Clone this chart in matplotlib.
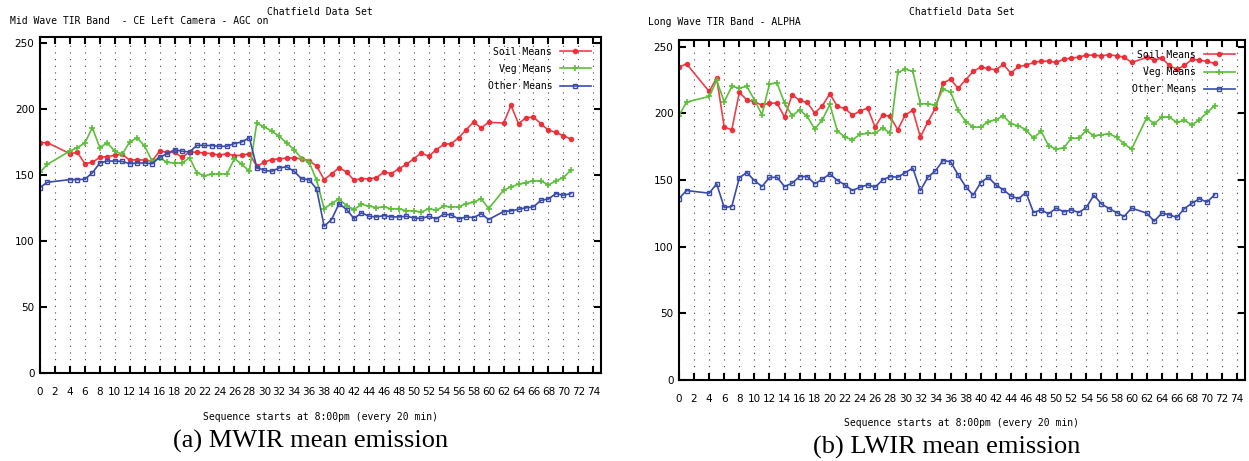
import matplotlib
matplotlib.use("Agg")
import matplotlib.pyplot as plt

# Sequence index (every 20 min from 8:00pm); 2, 3 and 61 are missing
seq = [0, 1, 4, 5, 6, 7, 8, 9, 10, 11, 12, 13, 14, 15, 16, 17, 18, 19, 20,
       21, 22, 23, 24, 25, 26, 27, 28, 29, 30, 31, 32, 33, 34, 35, 36, 37,
       38, 39, 40, 41, 42, 43, 44, 45, 46, 47, 48, 49, 50, 51, 52, 53, 54,
       55, 56, 57, 58, 59, 60, 62, 63, 64, 65, 66, 67, 68, 69, 70, 71]

# (a) MWIR
mwir_soil = [174.7, 174.7, 166.4, 167.4, 158.8, 159.8, 163.6, 164.1, 165.2, 165.9,
             161.4, 161.9, 161.4, 160.8, 168.4, 167.4, 167.4, 163.6, 167.7, 167.4,
             166.9, 166.4, 165.2, 166.4, 164.9, 165.2, 166.4, 156.8, 160.0, 161.9,
             162.4, 163.1, 163.1, 162.5, 161.0, 157.0, 146.7, 151.0, 155.8, 152.5,
             146.2, 147.5, 147.2, 148.2, 152.5, 151.3, 155.0, 158.3, 162.6, 166.9,
             164.4, 169.4, 173.5, 174.0, 178.5, 184.6, 190.4, 185.9, 190.2, 189.6,
             203.0, 189.1, 193.7, 194.2, 189.1, 184.1, 182.6, 180.0, 177.5]
mwir_veg = [152.3, 158.3, 168.4, 171.0, 174.5, 186.1, 171.0, 174.5, 168.4, 165.9,
            175.3, 178.5, 172.0, 160.8, 163.3, 159.8, 159.3, 159.3, 163.3, 151.8,
            149.7, 150.8, 151.3, 150.8, 162.6, 158.3, 153.0, 189.6, 186.6, 183.6,
            179.5, 174.5, 169.4, 162.6, 160.0, 146.2, 124.7, 128.5, 132.0, 127.0,
            124.0, 128.0, 126.5, 125.5, 126.0, 124.5, 124.5, 123.0, 123.0, 122.0,
            124.7, 123.5, 126.5, 126.0, 126.0, 128.5, 129.5, 132.3, 124.7, 138.6,
            141.2, 143.2, 144.5, 145.7, 145.7, 142.7, 145.7, 148.3, 153.8]
mwir_other = [140.7, 144.7, 146.7, 146.7, 147.0, 151.8, 159.3, 160.8, 160.8, 160.5,
              158.8, 159.3, 159.3, 158.8, 163.6, 166.4, 169.4, 168.2, 167.7, 172.7,
              172.7, 172.5, 172.0, 172.0, 174.0, 175.3, 178.5, 155.8, 153.8, 153.0,
              155.6, 156.4, 153.0, 147.2, 146.7, 139.5, 111.4, 116.4, 128.5, 124.0,
              117.2, 121.5, 118.9, 118.4, 119.4, 118.4, 118.4, 118.9, 117.7, 117.2,
              118.9, 116.9, 120.4, 119.9, 116.9, 118.4, 117.9, 120.9, 116.4, 122.5,
              123.0, 124.2, 125.3, 126.0, 131.0, 132.0, 136.1, 134.8, 136.1]

# (b) LWIR
lwir_soil = [234.7, 237.2, 216.5, 226.5, 189.7, 187.7, 215.7, 210.2, 208.7, 206.2,
             207.7, 207.7, 197.2, 214.0, 209.7, 208.2, 200.2, 205.7, 214.7, 205.2,
             203.7, 198.7, 201.7, 204.0, 189.7, 199.0, 197.7, 187.7, 199.0, 202.2,
             182.2, 193.7, 204.0, 222.7, 225.7, 218.7, 225.2, 231.5, 234.7, 233.7,
             232.7, 236.7, 230.2, 235.2, 236.2, 238.2, 239.2, 239.2, 238.2, 240.7,
             241.5, 242.2, 243.7, 243.7, 243.2, 244.0, 243.2, 242.2, 238.2, 242.0,
             240.0, 241.5, 236.0, 233.0, 236.0, 240.5, 240.0, 239.0, 237.5]
lwir_veg = [198.2, 208.5, 212.7, 224.7, 208.7, 220.2, 219.0, 220.2, 210.2, 199.0,
            222.2, 222.7, 207.7, 198.2, 202.7, 197.7, 188.2, 195.2, 206.7, 186.7,
            182.2, 180.2, 184.2, 185.0, 185.0, 189.2, 185.0, 230.7, 233.2, 231.5,
            207.2, 207.2, 206.2, 218.2, 216.0, 202.2, 193.9, 189.7, 189.7, 193.9,
            195.2, 198.2, 192.2, 190.7, 187.7, 181.4, 186.7, 175.7, 173.2, 174.0,
            181.4, 181.4, 187.2, 183.2, 183.9, 184.7, 182.2, 177.2, 173.2, 196.7,
            192.2, 197.2, 197.2, 193.2, 194.7, 191.4, 195.2, 200.7, 205.7]
lwir_other = [136.1, 142.1, 140.1, 147.1, 129.4, 130.1, 151.7, 155.6, 149.6, 145.1,
              151.9, 152.1, 145.1, 147.6, 152.6, 152.6, 147.1, 150.6, 154.6, 149.6,
              146.4, 142.1, 144.6, 146.4, 144.6, 150.1, 152.6, 152.1, 155.6, 158.9,
              142.1, 152.1, 156.9, 164.6, 163.8, 153.9, 145.1, 138.6, 148.1, 152.1,
              146.4, 142.6, 138.1, 135.9, 140.6, 125.6, 127.6, 124.6, 128.9, 126.1,
              127.6, 125.6, 129.4, 138.6, 132.1, 128.6, 125.6, 122.6, 128.9, 125.1,
              119.1, 125.1, 123.9, 121.9, 128.6, 132.6, 135.9, 133.4, 138.9]

x_ticks = list(range(0, 75, 2))
y_ticks = [0, 50, 100, 150, 200, 250]

RED = "#ec2a34"
GREEN = "#5cbf3a"
BLUE = "#3a4bab"
MONO = "DejaVu Sans Mono"


def draw_panel(ax, soil, veg, other):
    ax.plot(seq, soil, color=RED, lw=1.2, marker="o", ms=3, mfc=RED,
            mec=RED, alpha=0.9, label="Soil Means")
    ax.plot(seq, veg, color=GREEN, lw=1.2, marker="+", ms=5, mew=1.2,
            label="Veg Means")
    ax.plot(seq, other, color=BLUE, lw=1.2, marker="s", ms=3.5, mfc="none",
            mew=1.0, label="Other Means")
    ax.set_xlim(0, 75)
    ax.set_ylim(0, 255)
    ax.set_xticks(x_ticks)
    ax.set_yticks(y_ticks)
    ax.grid(True, axis="x", color="#444444", lw=0.8, linestyle=(0, (1, 5)))
    ax.set_axisbelow(True)
    ax.tick_params(direction="in", length=5, width=1.5, top=True, right=True,
                   labelsize=7.5, colors="black")
    ax.tick_params(axis="x", pad=10)
    ax.tick_params(axis="y", pad=4, labelright=False)
    for s in ax.spines.values():
        s.set_linewidth(1.5)
    ax.legend(loc="upper right", frameon=False, markerfirst=False,
              prop={"family": MONO, "size": 7}, handlelength=3.2,
              labelspacing=0.75, borderaxespad=0.6)


fig = plt.figure(figsize=(12.49, 4.61), dpi=100)

ax1 = fig.add_axes([0.032, 0.191, 0.449, 0.729])
draw_panel(ax1, mwir_soil, mwir_veg, mwir_other)
ax2 = fig.add_axes([0.5436, 0.176, 0.453, 0.737])
draw_panel(ax2, lwir_soil, lwir_veg, lwir_other)

# gnuplot-style titles and labels
fig.text(0.008, 0.955, "Mid Wave TIR Band  - CE Left Camera - AGC on",
         family=MONO, size=7, va="center", ha="left")
fig.text(0.2565, 0.974, "Chatfield Data Set", family=MONO, size=7,
         va="center", ha="center")
fig.text(0.2565, 0.095, "Sequence starts at 8:00pm (every 20 min)",
         family=MONO, size=7, va="center", ha="center")
fig.text(0.2486, 0.043, "(a) MWIR mean emission", family="Liberation Serif",
         size=19, va="center", ha="center")

fig.text(0.519, 0.952, "Long Wave TIR Band - ALPHA", family=MONO, size=7,
         va="center", ha="left")
fig.text(0.770, 0.974, "Chatfield Data Set", family=MONO, size=7,
         va="center", ha="center")
fig.text(0.770, 0.083, "Sequence starts at 8:00pm (every 20 min)",
         family=MONO, size=7, va="center", ha="center")
fig.text(0.758, 0.030, "(b) LWIR mean emission", family="Liberation Serif",
         size=19, va="center", ha="center")

fig.savefig("out.png", dpi=100, facecolor="white")
